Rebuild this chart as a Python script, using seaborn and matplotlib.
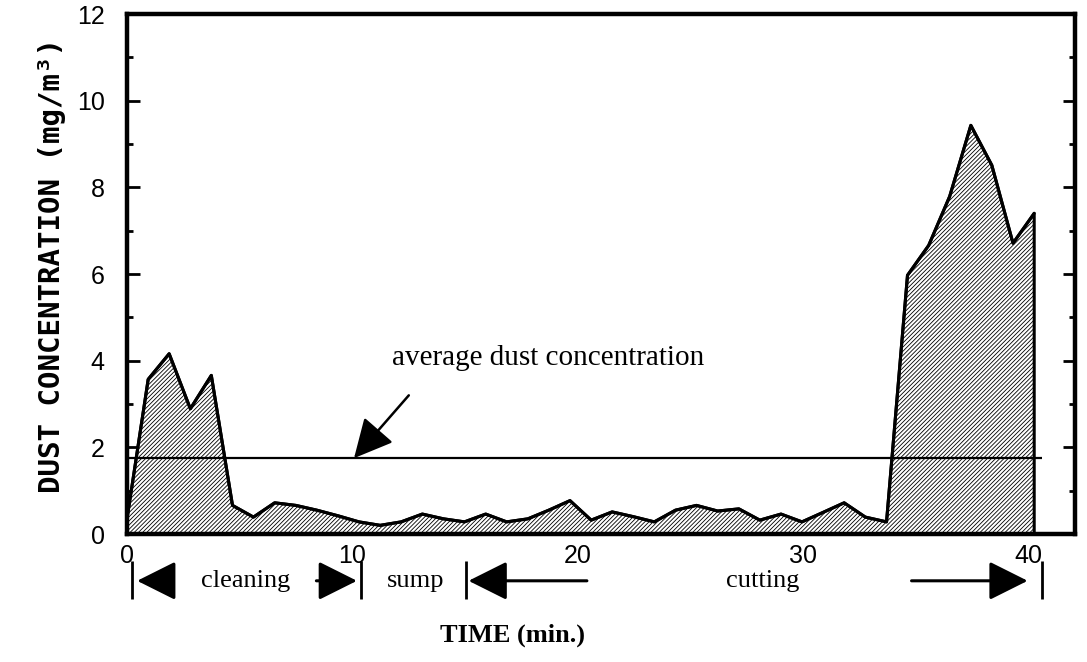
import matplotlib
matplotlib.use("Agg")
import matplotlib.pyplot as plt
from matplotlib.ticker import MultipleLocator
import pandas as pd
import seaborn as sns

# Sampling times (min) and dust concentration (mg/m3) over the shift
minutes = [0.00, 0.94, 1.87, 2.81, 3.74, 4.68, 5.61, 6.55, 7.49, 8.42,
           9.36, 10.29, 11.23, 12.16, 13.10, 14.04, 14.97, 15.91, 16.84, 17.78,
           18.71, 19.65, 20.59, 21.52, 22.46, 23.39, 24.33, 25.26, 26.20, 27.14,
           28.07, 29.01, 29.94, 30.88, 31.81, 32.75, 33.69, 34.62, 35.56, 36.49,
           37.43, 38.36, 39.30, 40.24]
concentration = [0.35, 3.57, 4.16, 2.89, 3.66, 0.66, 0.39, 0.72, 0.66, 0.55,
                 0.42, 0.28, 0.20, 0.28, 0.46, 0.35, 0.28, 0.46, 0.28, 0.35,
                 0.55, 0.77, 0.32, 0.51, 0.40, 0.28, 0.55, 0.66, 0.53, 0.58,
                 0.32, 0.46, 0.28, 0.50, 0.72, 0.39, 0.28, 5.97, 6.66, 7.79,
                 9.43, 8.51, 6.71, 7.40]

average_level = 1.75
average_end = 40.58

x_ticks = [0, 10, 20, 30, 40]
y_ticks = [0, 2, 4, 6, 8, 10, 12]

# Work phases shown under the time axis
phase_bounds = [0.2, 10.38, 15.03, 40.6]
phase_names = ["cleaning", "sump", "cutting"]
phase_name_x = [5.25, 12.8, 28.2]
phase_arrows = [(1.9, 0.45), (8.4, 10.2), (20.4, 15.15), (34.8, 39.95)]

sns.set_theme(style="ticks")
plt.rcParams["font.family"] = ["Liberation Sans", "DejaVu Sans"]
plt.rcParams["text.color"] = "black"
plt.rcParams["axes.labelcolor"] = "black"
plt.rcParams["hatch.linewidth"] = 0.6

fig = plt.figure(figsize=(10.87, 6.62), dpi=100)
ax = fig.add_axes([127 / 1087, 128 / 662, 948 / 1087, 520 / 662])

df = pd.DataFrame({"minutes": minutes, "concentration": concentration})

ax.fill_between(df["minutes"], 0, df["concentration"], facecolor="white",
                edgecolor="black", hatch="////////", linewidth=2.2, zorder=2)
sns.lineplot(data=df, x="minutes", y="concentration", color="black",
             linewidth=2.2, ax=ax, zorder=3)

ax.hlines(average_level, 0, average_end, color="black", linewidth=1.6, zorder=4)

serif = "Liberation Serif"
head = "-|>,head_length=1.2,head_width=0.6"
ax.annotate("", xy=(10.07, average_level), xytext=(12.5, 3.2),
            arrowprops=dict(arrowstyle=head, color="black", lw=1.8,
                            mutation_scale=20, shrinkA=0, shrinkB=0), zorder=5)
ax.text(18.67, 4.06, "average dust concentration", family=serif,
        fontsize=21, ha="center", va="center", color="black")

# Phase markers below the axis
y_row = -1.08
ax.vlines(phase_bounds, -1.5, -0.62, color="black", linewidth=2.0, clip_on=False)
for tail, tip in phase_arrows:
    ax.annotate("", xy=(tip, y_row), xytext=(tail, y_row), annotation_clip=False,
                arrowprops=dict(arrowstyle=head, color="black", lw=2.2,
                                mutation_scale=20, shrinkA=0, shrinkB=0))
for name, xpos in zip(phase_names, phase_name_x):
    ax.text(xpos, y_row, name, family=serif, fontsize=19, ha="center",
            va="center", clip_on=False, color="black")

ax.set_xlim(0, 42.05)
ax.set_ylim(0, 12)
ax.set_xticks(x_ticks)
ax.set_yticks(y_ticks)
ax.yaxis.set_minor_locator(MultipleLocator(1))
ax.tick_params(axis="y", which="both", direction="in", left=True, right=True,
               labelsize=18, pad=16, color="black", labelcolor="black")
ax.tick_params(axis="y", which="major", length=9, width=2)
ax.tick_params(axis="y", which="minor", length=4.5, width=2)
ax.tick_params(axis="x", length=0, labelsize=18, pad=7, labelcolor="black")

for side in ["left", "right", "top", "bottom"]:
    ax.spines[side].set_visible(True)
    ax.spines[side].set_linewidth(3.2)
    ax.spines[side].set_color("black")
    ax.spines[side].set_zorder(6)

ax.set_xlabel("TIME (min.)", family=serif, weight="bold", fontsize=19,
              color="black")
ax.xaxis.set_label_coords(0.407, -0.172)
ax.set_ylabel("DUST CONCENTRATION (mg/m³)", family="DejaVu Sans Mono",
              weight="bold", fontsize=21, color="black", va="center")
ax.yaxis.set_label_coords(-0.079, 0.517)

fig.savefig("out.png", dpi=100, facecolor="white")
